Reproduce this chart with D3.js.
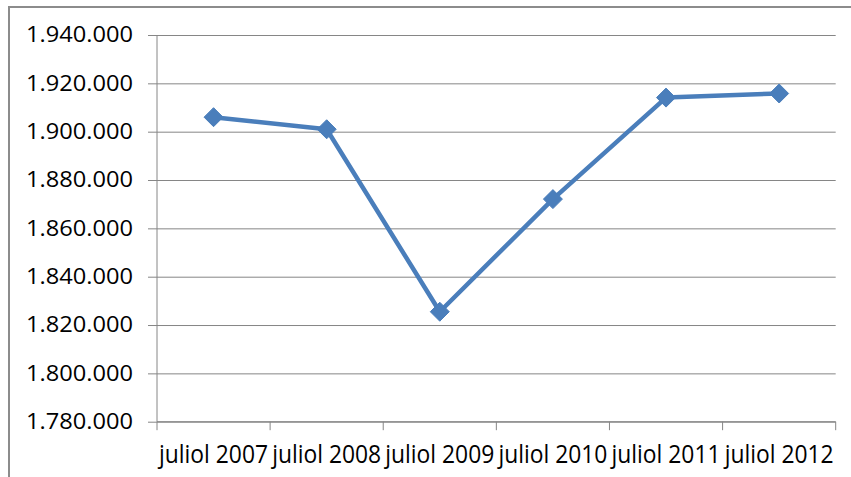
<!DOCTYPE html>
<html>
<head>
<meta charset="utf-8">
<script src="https://cdn.jsdelivr.net/npm/d3@7"></script>
<style>
  html, body { margin: 0; padding: 0; background: #fff; }
  svg { display: block; }
</style>
</head>
<body>
<svg id="chart" width="851" height="477"></svg>
<script>
const categories = ["juliol 2007", "juliol 2008", "juliol 2009", "juliol 2010", "juliol 2011", "juliol 2012"];
const values = [1906000, 1901000, 1825500, 1872100, 1914100, 1915800];
const yTicks = [1780000, 1800000, 1820000, 1840000, 1860000, 1880000, 1900000, 1920000, 1940000];

(function () {
const svg = d3.select("#chart");
const pLeft = 157, pRight = 835.7, pTop = 35, pBottom = 421.7;
const lineColor = "#4a7ebb";
const gridColor = "#868686";

// outer frame
svg.append("rect")
  .attr("x", 9).attr("y", 7).attr("width", 900).attr("height", 500)
  .attr("fill", "#fff").attr("stroke", "#8c8c8c").attr("stroke-width", 2);

const x = d3.scaleBand().domain(categories).range([pLeft, pRight]).padding(0);
const y = d3.scaleLinear().domain([1780000, 1940000]).range([pBottom, pTop]);

const fmt = v => d3.format(",")(v).replace(/,/g, ".");

// gridlines + y axis
const yAxis = d3.axisLeft(y).tickValues(yTicks).tickSize(9).tickPadding(15).tickFormat(fmt);
const gy = svg.append("g").attr("transform", `translate(${pLeft},0)`).call(yAxis);
gy.select(".domain").remove();
gy.selectAll(".tick line").attr("stroke", gridColor).attr("x2", -9).attr("x1", pRight - pLeft);
gy.selectAll(".tick text")
  .attr("font-family", "'Open Sans', sans-serif")
  .attr("font-size", 21.5)
  .attr("fill", "#000")
  .attr("textLength", 107)
  .attr("lengthAdjust", "spacingAndGlyphs");

// vertical axis line
svg.append("line")
  .attr("x1", pLeft).attr("x2", pLeft).attr("y1", pTop).attr("y2", pBottom)
  .attr("stroke", gridColor);

// x axis
const xAxis = d3.axisBottom(x).tickSize(0).tickPadding(0);
const gx = svg.append("g").attr("transform", `translate(0,${pBottom})`).call(xAxis);
gx.select(".domain").attr("stroke", gridColor).attr("d", `M${pLeft},0H${pRight}`);
gx.selectAll(".tick text")
  .attr("font-family", "'Open Sans', sans-serif")
  .attr("font-size", 25)
  .attr("fill", "#000")
  .attr("y", 41.5)
  .attr("dy", 0)
  .attr("textLength", 109)
  .attr("lengthAdjust", "spacingAndGlyphs");

// category boundary ticks
const boundaries = categories.map(c => x(c)).concat([x(categories[categories.length - 1]) + x.bandwidth()]);
svg.append("g").selectAll("line").data(boundaries).join("line")
  .attr("x1", d => d).attr("x2", d => d)
  .attr("y1", pBottom).attr("y2", pBottom + 8.5)
  .attr("stroke", gridColor);

// line series
const data = categories.map((c, i) => ({ c, v: values[i] }));
const cx = d => x(d.c) + x.bandwidth() / 2;
svg.append("path")
  .datum(data)
  .attr("fill", "none")
  .attr("stroke", lineColor)
  .attr("stroke-width", 4.5)
  .attr("stroke-linejoin", "round")
  .attr("d", d3.line().x(cx).y(d => y(d.v)));

// diamond markers
const s = 9.5;
svg.append("g").selectAll("path").data(data).join("path")
  .attr("transform", d => `translate(${cx(d)},${y(d.v)})`)
  .attr("d", `M0,${-s}L${s},0L0,${s}L${-s},0Z`)
  .attr("fill", lineColor)
  .attr("stroke", lineColor)
  .attr("stroke-width", 1);
})();
</script>
</body>
</html>
